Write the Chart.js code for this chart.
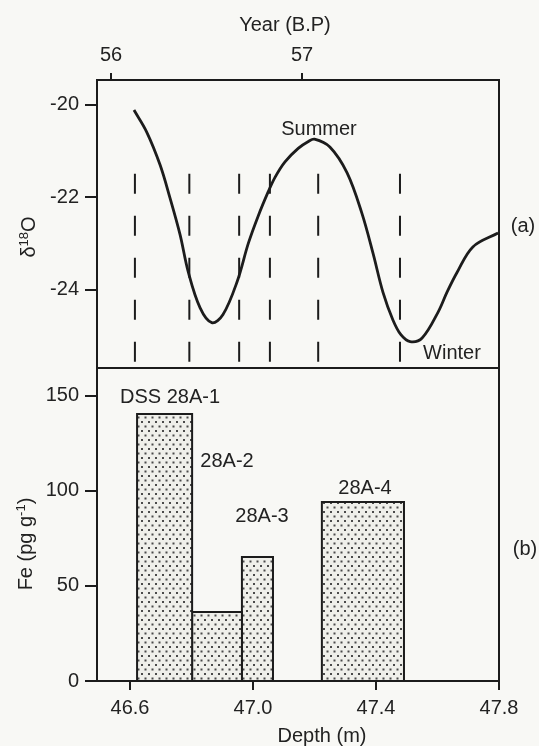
<!DOCTYPE html>
<html>
<head>
<meta charset="utf-8">
<script src="https://cdn.jsdelivr.net/npm/chart.js@4"></script>
<style>
  html, body { margin: 0; padding: 0; background: #f8f8f5; }
  body { width: 539px; height: 746px; position: relative; overflow: hidden; font-family: 'Liberation Sans', Arial, sans-serif; color: #222; }
  canvas { position: absolute; left: 0; }
  #topChart { top: 0; }
  #feChart { top: 366px; }
  .lbl { position: absolute; font-size: 20px; line-height: 20px; white-space: nowrap; transform: translate(-50%, -50%); }
  .rot { transform: translate(-50%, -50%) rotate(-90deg); }
  sup { font-size: 13px; line-height: 0; vertical-align: 7px; }
</style>
</head>
<body>
<canvas id="topChart" width="539" height="370"></canvas>
<canvas id="feChart" width="539" height="380"></canvas>

<div class="lbl" style="left:285px; top:24px;">Year (B.P)</div>
<div class="lbl rot" style="left:28px; top:237px;">δ<sup>18</sup>O</div>
<div class="lbl rot" style="left:25px; top:544px;">Fe (pg g<sup>-1</sup>)</div>
<div class="lbl" style="left:322px; top:735px;">Depth (m)</div>
<div class="lbl" style="left:523px; top:225px;">(a)</div>
<div class="lbl" style="left:525px; top:548px;">(b)</div>
<div class="lbl" style="left:319px; top:128px;">Summer</div>
<div class="lbl" style="left:452px; top:352px;">Winter</div>
<div class="lbl" style="left:170px; top:396px;">DSS 28A-1</div>
<div class="lbl" style="left:227px; top:460px;">28A-2</div>
<div class="lbl" style="left:262px; top:515px;">28A-3</div>
<div class="lbl" style="left:365px; top:487px;">28A-4</div>

<script>
// axis ticks
const depthTicks = [46.6, 47.0, 47.4, 47.8];
const yearTicks = [56, 57];
const isoTicks = [-20, -22, -24];
const feTicks = [0, 50, 100, 150];

// (a) d18O profile
const curveDepth = [46.613, 46.654, 46.698, 46.730, 46.763, 46.789, 46.828, 46.866, 46.902, 46.948, 46.985, 47.017, 47.050, 47.072, 47.104, 47.147, 47.180, 47.200, 47.250, 47.306, 47.354, 47.390, 47.423, 47.455, 47.481, 47.511, 47.550, 47.602, 47.631, 47.663, 47.715, 47.797];
const curveIso = [-20.11, -20.58, -21.30, -22.01, -22.81, -23.60, -24.39, -24.71, -24.54, -23.83, -22.99, -22.40, -21.87, -21.56, -21.23, -20.94, -20.79, -20.74, -20.91, -21.47, -22.34, -23.20, -24.06, -24.65, -24.97, -25.12, -25.04, -24.48, -24.05, -23.63, -23.07, -22.77];

// sample cut depths (dashed lines)
const cutDepths = [46.616, 46.793, 46.955, 47.055, 47.212, 47.478];
const cutTop = -21.49;

// (b) Fe samples
const barFrom = [46.623, 46.802, 46.964, 47.224];
const barTo = [46.802, 46.964, 47.065, 47.491];
const feValues = [140.5, 36.3, 65.3, 94.2];

const INK = '#1c1c1c';
const FONT = { family: "'Liberation Sans', Arial, sans-serif", size: 20 };
const depthMin = 46.4927, depthMax = 47.8;
const isoMin = -25.69, isoMax = -19.46;

Chart.defaults.animation = false;
Chart.defaults.color = '#222';

function stipple() {
  const c = document.createElement('canvas');
  c.width = 7; c.height = 9;
  const g = c.getContext('2d');
  g.fillStyle = '#efefea';
  g.fillRect(0, 0, 7, 9);
  g.fillStyle = '#4a4a4a';
  g.fillRect(1, 1, 2, 2);
  g.fillRect(4.5, 5.5, 2, 2);
  return g.createPattern(c, 'repeat');
}

const frame = {
  id: 'frame',
  afterDatasetsDraw(chart) {
    const { ctx, chartArea: a } = chart;
    ctx.save();
    ctx.strokeStyle = INK;
    ctx.lineWidth = 2;
    ctx.strokeRect(a.left, a.top, a.right - a.left, a.bottom - a.top);
    ctx.restore();
  }
};

function fixedTicks(list) {
  return (scale) => { scale.ticks = list.map((v) => ({ value: v })); };
}

// fixed axis size, no label overflow padding
function fitWidth(w) {
  return (s) => { s.width = w; s.paddingTop = 0; s.paddingBottom = 0; };
}
function fitHeight(h) {
  return (s) => { s.height = h; s.paddingLeft = 0; s.paddingRight = 0; };
}

function tickGrid(len) {
  return { display: true, drawOnChartArea: false, drawTicks: true, tickLength: len, color: INK, lineWidth: 2 };
}

const curveData = curveDepth.map((d, i) => ({ x: d, y: curveIso[i] }));
const cutSets = cutDepths.map((d) => ({
  data: [{ x: d, y: cutTop }, { x: d, y: isoMin }],
  borderColor: INK, borderWidth: 2, borderDash: [20, 22], pointRadius: 0
}));

new Chart(document.getElementById('topChart'), {
  type: 'line',
  data: {
    datasets: [
      ...cutSets,
      { data: curveData, borderColor: INK, borderWidth: 2.8, pointRadius: 0, tension: 0.35 }
    ]
  },
  options: {
    responsive: false,
    layout: { padding: { left: 0, right: 40, top: 0, bottom: 2 } },
    plugins: { legend: { display: false }, tooltip: { enabled: false } },
    scales: {
      x: { type: 'linear', display: false, min: depthMin, max: depthMax },
      year: {
        type: 'linear', position: 'top', min: 55.9267, max: 58.0314,
        afterBuildTicks: fixedTicks(yearTicks),
        afterFit: fitHeight(80),
        ticks: { font: FONT, padding: 6, callback: (v) => String(v) },
        grid: tickGrid(7), border: { display: false }
      },
      y: {
        min: isoMin, max: isoMax,
        afterBuildTicks: fixedTicks(isoTicks),
        afterFit: fitWidth(97),
        ticks: { font: FONT, padding: 6, callback: (v) => String(v) },
        grid: tickGrid(12), border: { display: false }
      }
    }
  },
  plugins: [frame]
});

const dots = stipple();
const barSets = feValues.map((v, i) => ({
  data: [{ x: barFrom[i], y: 0 }, { x: barFrom[i], y: v }, { x: barTo[i], y: v }, { x: barTo[i], y: 0 }],
  borderColor: INK, borderWidth: 2, backgroundColor: dots, fill: 'origin', pointRadius: 0, tension: 0
}));

new Chart(document.getElementById('feChart'), {
  type: 'line',
  data: { datasets: barSets },
  options: {
    responsive: false,
    layout: { padding: { left: 0, right: 40, top: 2, bottom: 0 } },
    plugins: { legend: { display: false }, tooltip: { enabled: false } },
    scales: {
      x: {
        type: 'linear', min: depthMin, max: depthMax,
        afterBuildTicks: fixedTicks(depthTicks),
        afterFit: fitHeight(65),
        ticks: { font: FONT, padding: 6, maxRotation: 0, callback: (v) => v.toFixed(1) },
        grid: tickGrid(9), border: { display: false }
      },
      y: {
        min: 0, max: 164.7,
        afterBuildTicks: fixedTicks(feTicks),
        afterFit: fitWidth(97),
        ticks: { font: FONT, padding: 6, callback: (v) => String(v) },
        grid: tickGrid(12), border: { display: false }
      }
    }
  },
  plugins: [frame]
});
</script>
</body>
</html>
